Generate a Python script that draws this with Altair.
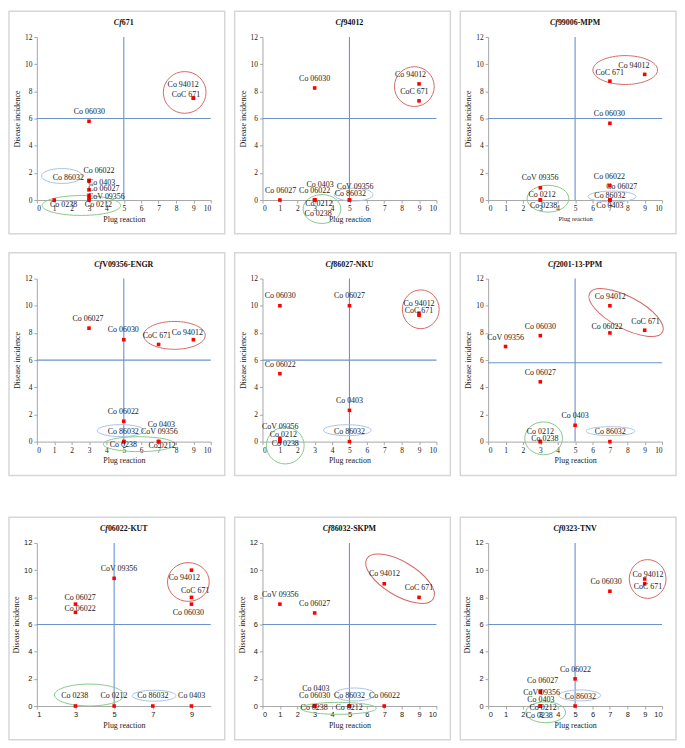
import altair as alt
import pandas as pd

SERIF = "Liberation Serif"
SANS = "Liberation Sans"

TITLES = ["Cf671", "Cf94012", "Cf99006-MPM", "CfV09356-ENGR", "Cf86027-NKU",
          "Cf2001-13-PPM", "Cf06022-KUT", "Cf86032-SKPM", "Cf0323-TNV"]
CUT_PLUG = [5, 5, 5, 5, 5, 5, 5, 5, 5]
CUT_INCIDENCE = [6, 6, 6, 6, 6, 5.8, 6, 6, 6]

# ---- panel 1: Cf671
P1_NAMES = ["Co 94012", "CoC 671", "Co 06030", "Co 06022", "Co 0403", "Co 06027", "CoV 09356", "Co 86032", "Co 0238", "Co 0212"]
P1_PLUG = [9, 9, 3, 3, 3, 3, 3, 3, 1, 3]
P1_INC = [7.5, 7.5, 5.8, 1.45, 1.4, 0.75, 0.35, 0.15, 0, 0]
P1_LX = [8.41, 8.57, 3.02, 3.57, 3.72, 3.85, 4.0, 1.81, 1.54, 3.54]
P1_LY = [8.46, 7.7, 6.45, 2.15, 1.25, 0.78, 0.24, 1.63, -0.35, -0.35]

# ---- panel 2: Cf94012
P2_NAMES = ["Co 94012", "CoC 671", "Co 06030", "Co 06027", "Co 06022", "Co 0403", "Co 0212", "Co 0238", "CoV 09356", "Co 86032"]
P2_PLUG = [9, 9, 3, 1, 3, 3, 3, 3, 5, 5]
P2_INC = [8.55, 7.3, 8.25, 0, 0, 0, 0, 0, 0, 0]
P2_LX = [8.51, 8.73, 3.0, 1.04, 3.0, 3.31, 3.24, 3.2, 5.33, 5.05]
P2_LY = [9.22, 7.97, 8.92, 0.68, 0.68, 1.11, -0.31, -1.0, 0.99, 0.45]

# ---- panel 3: Cf99006-MPM
P3_NAMES = ["Co 94012", "CoC 671", "Co 06030", "Co 06022", "Co 06027", "Co 86032", "Co 0403", "CoV 09356", "Co 0212", "Co 0238"]
P3_PLUG = [9, 7, 7, 7, 7, 7, 7, 3, 3, 3]
P3_INC = [9.25, 8.75, 5.65, 1.05, 0, 0, 0, 0.9, 0, 0]
P3_LX = [8.38, 6.99, 6.97, 6.97, 7.68, 7.0, 7.0, 2.99, 3.1, 3.19]
P3_LY = [9.88, 9.33, 6.32, 1.72, 0.95, 0.31, -0.43, 1.6, 0.36, -0.45]

# ---- panel 4: CfV09356-ENGR
P4_NAMES = ["Co 06027", "Co 06030", "CoC 671", "Co 94012", "Co 06022", "Co 86032", "Co 0238", "Co 0403", "CoV 09356", "Co 0212"]
P4_PLUG = [3, 5, 7, 9, 5, 5, 5, 7, 7, 7]
P4_INC = [8.35, 7.5, 7.15, 7.5, 1.5, 0, 0, 0, 0, 0]
P4_LX = [2.94, 4.97, 6.9, 8.65, 4.97, 4.97, 4.97, 7.16, 7.04, 7.2]
P4_LY = [9.04, 8.23, 7.8, 7.99, 2.2, 0.69, -0.26, 1.22, 0.69, -0.31]

# ---- panel 5: Cf86027-NKU
P5_NAMES = ["Co 06030", "Co 06027", "Co 94012", "CoC 671", "Co 06022", "Co 0403", "Co 86032", "CoV 09356", "Co 0212", "Co 0238"]
P5_PLUG = [1, 5, 9, 9, 1, 5, 5, 1, 1, 1]
P5_INC = [10, 10, 9.45, 9.3, 5, 2.3, 0, 0.25, 0.1, 0]
P5_LX = [1.02, 5.0, 9.0, 9.0, 1.02, 5.0, 5.0, 1.02, 1.2, 1.31]
P5_LY = [10.69, 10.69, 10.1, 9.62, 5.63, 2.96, 0.67, 1.05, 0.5, -0.17]

# ---- panel 6: Cf2001-13-PPM
P6_NAMES = ["Co 94012", "CoC 671", "Co 06022", "Co 06030", "CoV 09356", "Co 06027", "Co 0403", "Co 86032", "Co 0212", "Co 0238"]
P6_PLUG = [7, 9, 7, 3, 1, 3, 5, 7, 3, 3]
P6_INC = [10, 8.2, 8, 7.8, 7, 4.4, 1.2, 0, 0, 0]
P6_LX = [7.02, 9.05, 6.83, 3.0, 1.0, 3.0, 5.0, 7.02, 3.0, 3.26]
P6_LY = [10.68, 8.83, 8.45, 8.45, 7.63, 5.06, 1.87, 0.67, 0.72, 0.19]

# ---- panel 7: Cf06022-KUT
P7_NAMES = ["CoV 09356", "Co 94012", "CoC 671", "Co 06030", "Co 06027", "Co 06022", "Co 0238", "Co 0212", "Co 86032", "Co 0403"]
P7_PLUG = [5, 9, 9, 9, 3, 3, 3, 5, 7, 9]
P7_INC = [9.4, 10, 8, 7.5, 7.5, 6.9, 0, 0, 0, 0]
P7_LX = [5.25, 8.63, 9.19, 8.84, 3.24, 3.24, 2.96, 4.99, 7.0, 9.01]
P7_LY = [10.09, 9.4, 8.43, 6.86, 7.98, 7.15, 0.73, 0.73, 0.73, 0.73]

# ---- panel 8: Cf86032-SKPM
P8_NAMES = ["Co 94012", "CoC 671", "CoV 09356", "Co 06027", "Co 0403", "Co 06030", "Co 0238", "Co 86032", "Co 0212", "Co 06022"]
P8_PLUG = [7, 9, 1, 3, 3, 3, 3, 5, 5, 7]
P8_INC = [9, 8, 7.5, 6.85, 0, 0, 0, 0, 0, 0]
P8_LX = [7.01, 9.0, 1.02, 3.0, 3.07, 3.0, 2.97, 5.0, 4.98, 7.01]
P8_LY = [9.71, 8.69, 8.18, 7.52, 1.24, 0.71, -0.12, 0.71, -0.12, 0.71]

# ---- panel 9: Cf0323-TNV
P9_NAMES = ["Co 94012", "CoC 671", "Co 06030", "Co 06022", "Co 06027", "CoV 09356", "Co 0403", "Co 0212", "Co 0238", "Co 86032"]
P9_PLUG = [9, 9, 7, 5, 3, 3, 3, 3, 3, 5]
P9_INC = [9.35, 9.0, 8.45, 2.0, 1.1, 1.0, 0, 0, 0, 0]
P9_LX = [9.19, 9.19, 6.78, 5.02, 3.13, 3.07, 3.03, 3.16, 2.94, 5.3]
P9_LY = [9.67, 8.76, 9.13, 2.68, 1.83, 0.93, 0.46, -0.17, -0.75, 0.68]

# group ellipses: centre in data units (x, y)
ELL_RED_X = [8.5, 8.73, 7.88, 7.91, 9.1, 7.93, 8.84, 7.91, 9.17]
ELL_RED_Y = [7.92, 8.35, 9.57, 7.82, 9.74, 9.5, 9.13, 9.37, 9.35]
ELL_BLUE_X = [1.44, 5.24, 7.12, 4.82, 4.88, 7.04, 7.07, 5.29, 5.27]
ELL_BLUE_Y = [1.77, 0.4, 0.26, 0.81, 0.84, 0.77, 0.76, 0.85, 0.78]
ELL_GREEN_X = [2.56, 3.42, 3.44, 5.88, 1.31, 3.19, 3.71, 4.37, 3.31]
ELL_GREEN_Y = [-0.4, -0.66, 0.1, -0.19, -0.29, 0.24, 0.81, -0.17, -0.46]

# ellipse shapes (style): width px, height px, rotation deg
ELL_RED_STYLE = [(43, 42, 0), (40, 40, 0), (65, 29, 0), (62, 28, 0), (37, 39, 0),
                 (83, 32, 28), (42, 39, 0), (78, 34, 31), (37, 39, 0)]
ELL_BLUE_STYLE = [(41, 15, 0), (39, 13, 0), (48, 11, 0), (47, 12, 0), (48, 11, 0),
                  (49, 9, 0), (44, 11, 0), (41, 13, 0), (42, 11, 0)]
ELL_GREEN_STYLE = [(79, 20, 0), (38, 29, 0), (42, 27, 0), (72, 15, 0), (38, 37, 0),
                   (38, 33, 0), (70, 22, 0), (76, 12, 0), (40, 21, 0)]

PANELS = [
    (P1_NAMES, P1_PLUG, P1_INC, P1_LX, P1_LY),
    (P2_NAMES, P2_PLUG, P2_INC, P2_LX, P2_LY),
    (P3_NAMES, P3_PLUG, P3_INC, P3_LX, P3_LY),
    (P4_NAMES, P4_PLUG, P4_INC, P4_LX, P4_LY),
    (P5_NAMES, P5_PLUG, P5_INC, P5_LX, P5_LY),
    (P6_NAMES, P6_PLUG, P6_INC, P6_LX, P6_LY),
    (P7_NAMES, P7_PLUG, P7_INC, P7_LX, P7_LY),
    (P8_NAMES, P8_PLUG, P8_INC, P8_LX, P8_LY),
    (P9_NAMES, P9_PLUG, P9_INC, P9_LX, P9_LY),
]

RED = "#d46a66"
BLUE = "#a9c4e4"
GREEN = "#86c98a"
LINE_BLUE = "#6a93cb"
POINT_RED = "#ff0000"

W, H = 175, 164
FL, FR, FT, FB = 28, 14, 26, 34
TITLE_SIZE = 8

# approximate bold Times glyph widths (em) for centring the two-part title
GLYPH_EM = {"-": 0.333, "M": 0.944, "P": 0.611, "K": 0.778, "U": 0.722, "T": 0.667,
            "N": 0.722, "R": 0.722, "G": 0.778, "E": 0.667, "S": 0.556, "V": 0.722}


def text_width(s):
    return sum(GLYPH_EM.get(ch, 0.5) for ch in s) * TITLE_SIZE


def ellipse_path(ratio):
    k = 0.5523
    r = ratio
    return (f"M-1,0 C-1,{-k*r:.4f} {-k:.4f},{-r:.4f} 0,{-r:.4f} "
            f"C{k:.4f},{-r:.4f} 1,{-k*r:.4f} 1,0 "
            f"C1,{k*r:.4f} {k:.4f},{r:.4f} 0,{r:.4f} "
            f"C{-k:.4f},{r:.4f} -1,{k*r:.4f} -1,0 Z")


def panel(i):
    names, plug, inc, lx, ly = PANELS[i]
    row = i // 3
    if i == 6:
        xdom, xvals = [1, 10], [1, 3, 5, 7, 9]
    else:
        xdom, xvals = [0, 10], list(range(11))
    tick_font = SANS if row == 2 else SERIF
    title_size = 6.5 if i == 2 else 8
    xs = alt.Scale(domain=xdom, nice=False, zero=False)
    ys = alt.Scale(domain=[0, 12], nice=False, zero=False)
    xa = alt.Axis(values=xvals, title="Plug reaction", labelFont=tick_font,
                  titleFontSize=title_size)
    ya = alt.Axis(values=[0, 2, 4, 6, 8, 10, 12], title="Disease incidence",
                  labelFont=tick_font)

    def X(f):
        return alt.X(f, type="quantitative", scale=xs, axis=xa)

    def Y(f):
        return alt.Y(f, type="quantitative", scale=ys, axis=ya)

    one = pd.DataFrame({"k": [0]})
    frame = alt.Chart(one).mark_rect(fillOpacity=0, stroke="#d6d6d6", strokeWidth=1.5).encode(
        x=alt.value(-FL), x2=alt.value(W + FR), y=alt.value(-FT), y2=alt.value(H + FB))

    # panel title: italic "Cf" + bold rest, centred over the plot
    title = TITLES[i]
    cf, rest = title[:2], title[2:]
    cfw = 1.0 * TITLE_SIZE
    total = cfw + text_width(rest)
    x0 = W / 2 - total / 2
    t1 = alt.Chart(one).mark_text(font=SERIF, fontSize=TITLE_SIZE, fontWeight="bold",
                                  fontStyle="italic", align="left", baseline="alphabetic",
                                  color="#111111").encode(
        x=alt.value(x0), y=alt.value(-12), text=alt.value(cf))
    t2 = alt.Chart(one).mark_text(font=SERIF, fontSize=TITLE_SIZE, fontWeight="bold",
                                  align="left", baseline="alphabetic",
                                  color="#111111").encode(
        x=alt.value(x0 + cfw), y=alt.value(-12), text=alt.value(rest))

    vdf = pd.DataFrame({"cx": [CUT_PLUG[i]], "y0": [0], "y1": [12]})
    vrule = alt.Chart(vdf).mark_rule(color=LINE_BLUE, strokeWidth=1.1).encode(
        x=X("cx"), y=Y("y0"), y2="y1:Q")
    hdf = pd.DataFrame({"cy": [CUT_INCIDENCE[i]], "x0": [xdom[0]], "x1": [10]})
    hrule = alt.Chart(hdf).mark_rule(color=LINE_BLUE, strokeWidth=1.1).encode(
        y=Y("cy"), x=X("x0"), x2="x1:Q")

    layers = [frame, t1, t2, vrule, hrule]
    for cxs, cys, styles, col in [(ELL_RED_X, ELL_RED_Y, ELL_RED_STYLE, RED),
                                  (ELL_BLUE_X, ELL_BLUE_Y, ELL_BLUE_STYLE, BLUE),
                                  (ELL_GREEN_X, ELL_GREEN_Y, ELL_GREEN_STYLE, GREEN)]:
        w, h, ang = styles[i]
        edf = pd.DataFrame({"ex": [cxs[i]], "ey": [cys[i]]})
        layers.append(alt.Chart(edf).mark_point(
            shape=ellipse_path(h / w), size=w * w, angle=ang, filled=False,
            color=col, strokeWidth=1, opacity=1).encode(x=X("ex"), y=Y("ey")))

    pdf = pd.DataFrame({"name": names, "plug": plug, "inc": inc})
    pts = alt.Chart(pdf).mark_square(size=13, color=POINT_RED, opacity=1).encode(
        x=X("plug"), y=Y("inc"))
    ldf = pd.DataFrame({"name": names, "lx": lx, "ly": ly})
    labels = alt.Chart(ldf).mark_text(font=SERIF, fontSize=8, color="#1a1a1a").encode(
        x=X("lx"), y=Y("ly"), text="name:N")
    layers += [pts, labels]

    return alt.layer(*layers).properties(width=W, height=H)


rows = [alt.hconcat(*[panel(3 * r + c) for c in range(3)], spacing=8) for r in range(3)]
chart = alt.vconcat(alt.vconcat(rows[0], rows[1], spacing=17), rows[2], spacing=40).properties(
    padding=0
).configure_view(strokeWidth=0).configure_axis(
    grid=False, domainColor="#a6a6a6", tickColor="#a6a6a6", tickSize=3,
    labelFontSize=7.5, labelColor="#222222", labelPadding=2,
    titleFont=SERIF, titleFontSize=8, titleFontWeight="normal", titleColor="#222222",
    titlePadding=3
)

chart.save("out.html", embed_options={"renderer": "svg", "actions": False})
